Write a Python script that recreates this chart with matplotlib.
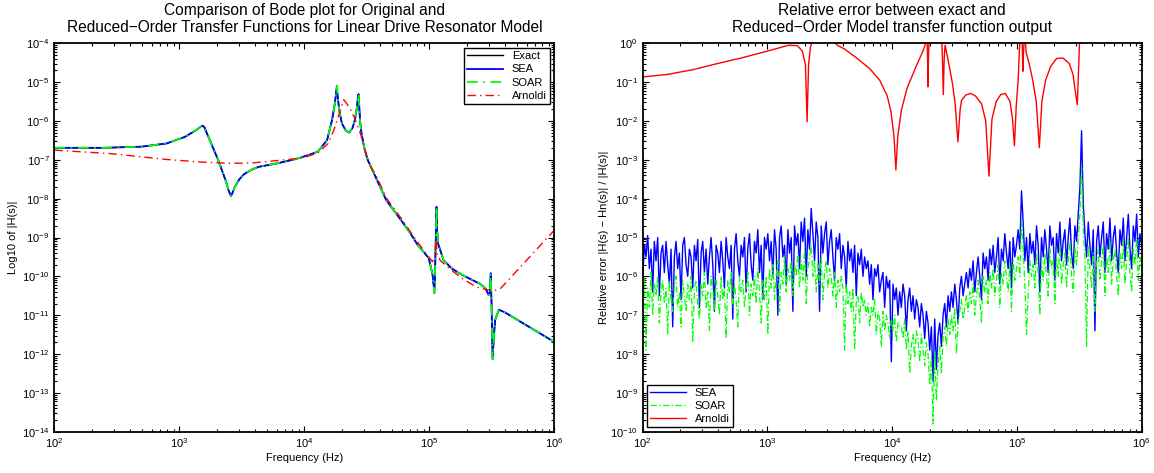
import numpy as np
import matplotlib
matplotlib.use('Agg')
import matplotlib.pyplot as plt
from matplotlib.ticker import LogLocator, NullFormatter

plt.rcParams['font.family'] = ['Liberation Sans', 'DejaVu Sans']
plt.rcParams['mathtext.fontset'] = 'custom'
plt.rcParams['mathtext.rm'] = 'Liberation Sans'
plt.rcParams['mathtext.it'] = 'Liberation Sans:italic'

# ---- left panel: Bode magnitude (log10 of frequency, log10 of |H|) ----
exact_logf = [2.00, 2.40, 2.70, 2.896, 3.044, 3.132, 3.17, 3.186, 3.20, 3.221,
              3.26, 3.310, 3.369, 3.395, 3.413, 3.425, 3.443, 3.48, 3.517, 3.58,
              3.635, 3.783, 3.931, 4.03, 4.108, 4.182, 4.221, 4.244, 4.255, 4.260,
              4.266, 4.279, 4.300, 4.33, 4.359, 4.385, 4.404, 4.421, 4.428, 4.433,
              4.438, 4.445, 4.457, 4.48, 4.507, 4.581, 4.655, 4.773, 4.85, 4.906,
              4.995, 5.024, 5.035, 5.039, 5.045, 5.050, 5.057, 5.062, 5.069, 5.113,
              5.18, 5.261, 5.409, 5.45, 5.474, 5.484, 5.491, 5.498, 5.506, 5.515,
              5.526, 5.556, 5.60, 6.00]
exact_logh = [-6.69, -6.69, -6.66, -6.58, -6.41, -6.24, -6.15, -6.12, -6.16, -6.32,
              -6.62, -7.00, -7.52, -7.80, -7.93, -7.85, -7.70, -7.50, -7.37, -7.25,
              -7.18, -7.09, -6.98, -6.88, -6.79, -6.49, -5.98, -5.55, -5.25, -5.10,
              -5.35, -5.72, -6.06, -6.24, -6.30, -6.18, -5.98, -5.64, -5.40, -5.31,
              -5.55, -5.98, -6.32, -6.70, -7.00, -7.52, -8.04, -8.55, -8.90, -9.19,
              -9.53, -9.93, -10.25, -10.43, -10.0, -9.2, -8.21, -8.8, -9.15, -9.58,
              -9.80, -9.96, -10.20, -10.32, -10.48, -10.40, -9.92, -10.8, -12.13, -11.6,
              -11.12, -10.86, -10.92, -11.69]
# SEA and SOAR reproduce the exact response to plotting accuracy
sea_logh = exact_logh
soar_logh = exact_logh

arnoldi_logf = [2.00, 2.45, 2.896, 3.19, 3.41, 3.58, 3.78, 3.99, 4.108, 4.19,
                4.24, 4.28, 4.315, 4.359, 4.404, 4.448, 4.477, 4.507, 4.581, 4.655,
                4.773, 4.906, 4.995, 5.024, 5.045, 5.054, 5.062, 5.09, 5.18, 5.26,
                5.38, 5.51, 5.57, 6.00]
arnoldi_logh = [-6.75, -6.84, -6.99, -7.06, -7.09, -7.08, -7.02, -6.95, -6.82, -6.58,
                -6.20, -5.80, -5.45, -5.64, -5.94, -6.32, -6.66, -7.05, -7.45, -7.98,
                -8.50, -9.12, -9.50, -9.62, -9.50, -8.98, -9.45, -9.60, -9.85, -10.05,
                -10.28, -10.38, -10.31, -8.81]

# ---- right panel: log10 of relative error, on a log-spaced frequency grid ----
sea_err = [
    -6.1, -5.2, -5.5, -4.95, -5.8, -5.3, -6.4, -5.1, -5.6, -5.0, -6.5, -5.4, -5.2, -5.9, -5.1,
    -5.7, -6.2, -5.3, -7.3, -5.5, -5.1, -5.8, -5.4, -6.6, -5.2, -5.0, -5.7, -6.0, -5.3, -5.5,
    -6.3, -5.2, -5.6, -5.05, -6.8, -5.4, -5.1, -5.9, -5.3, -6.2, -5.5, -5.0, -5.7, -6.9, -5.2,
    -5.4, -5.9, -5.1, -5.6, -6.3, -5.0, -5.5, -5.8, -5.2, -7.1, -5.3, -4.9, -5.6, -6.0, -5.2,
    -5.5, -5.0, -6.4, -5.3, -4.9, -5.7, -6.1, -5.1, -5.4, -4.8, -5.9, -5.2, -6.6, -5.0, -5.3,
    -4.9, -5.6, -5.1, -6.0, -4.8, -5.3, -7.0, -5.0, -4.7, -5.5, -5.2, -6.2, -4.8, -5.4, -5.0,
    -6.9, -4.7, -5.2, -4.9, -5.8, -4.6, -5.1, -4.5, -6.0, -4.8, -5.3, -4.25, -4.9, -5.6, -4.6,
    -5.0, -6.9, -4.7, -5.4, -4.9, -4.6, -5.7, -5.1, -4.8, -5.5, -6.1, -5.0, -5.3, -4.9, -5.8,
    -5.2, -5.5, -6.3, -5.1, -5.6, -5.3, -5.9, -5.2, -6.5, -5.4, -5.7, -5.3, -6.0, -5.5, -5.8,
    -5.6, -6.2, -5.7, -6.6, -5.8, -6.0, -5.7, -6.4, -6.1, -5.9, -6.8, -6.0, -6.3, -6.1, -8.2,
    -6.2, -6.6, -6.3, -7.0, -6.4, -6.8, -6.2, -6.5, -7.4, -6.6, -6.3, -6.9, -6.5, -7.1, -6.6,
    -6.8, -7.3, -6.7, -7.0, -7.6, -6.9, -7.2, -7.9, -7.3, -8.7, -7.1, -8.4, -7.5, -7.2, -7.8,
    -7.0, -6.7, -7.3, -6.5, -6.9, -6.4, -6.8, -6.2, -6.6, -7.2, -6.3, -6.0, -6.5, -6.2, -5.9,
    -6.3, -5.8, -6.1, -5.6, -6.4, -5.9, -5.5, -6.0, -6.6, -5.4, -5.8, -5.5, -6.1, -5.3, -5.7,
    -5.2, -5.9, -5.5, -5.0, -6.2, -5.3, -5.6, -4.9, -5.4, -5.8, -5.1, -6.3, -5.0, -5.5, -5.2,
    -4.8, -5.3, -3.8, -4.6, -5.6, -5.0, -5.9, -4.9, -5.4, -5.1, -5.7, -4.7, -5.2, -6.4, -5.0,
    -5.5, -4.8, -5.3, -5.9, -4.7, -5.2, -5.0, -6.1, -4.9, -5.4, -4.6, -5.6, -5.1, -4.8, -5.7,
    -5.0, -4.5, -5.4, -5.8, -4.7, -5.1, -4.4, -3.7, -2.25, -4.1, -4.9, -5.5, -4.6, -5.2, -5.7,
    -4.8, -7.4, -5.1, -4.7, -5.5, -5.0, -4.6, -5.9, -4.9, -5.3, -4.5, -5.6, -5.0, -4.7, -5.4,
    -5.9, -4.8, -5.2, -4.5, -5.6, -5.0, -4.4, -5.3, -5.8, -4.7, -5.1, -4.4, -5.5, -4.9, -5.2]
soar_err = [
    -6.6, -6.0, -7.9, -6.3, -6.8, -5.9, -7.0, -6.2, -6.5, -6.0, -7.2, -6.4, -6.1, -6.7, -6.3,
    -7.5, -6.1, -6.6, -6.9, -6.2, -6.0, -6.8, -6.4, -7.3, -6.1, -6.5, -6.9, -6.2, -6.6, -6.0,
    -7.7, -6.3, -6.1, -6.7, -7.1, -6.2, -6.5, -5.9, -6.8, -6.4, -7.4, -6.0, -6.3, -6.9, -6.1,
    -6.5, -7.0, -6.0, -6.6, -6.3, -7.6, -6.1, -6.4, -5.9, -6.8, -6.2, -6.6, -7.3, -6.0, -6.4,
    -6.1, -6.8, -6.3, -5.9, -7.0, -6.2, -6.5, -6.0, -6.7, -5.8, -6.4, -7.2, -6.1, -6.6, -6.0,
    -7.5, -5.8, -6.3, -5.7, -6.6, -6.0, -5.6, -6.9, -5.9, -6.2, -5.5, -6.4, -5.8, -6.1, -5.6,
    -6.5, -5.7, -6.0, -5.4, -6.3, -5.6, -6.1, -5.3, -6.7, -5.8, -5.5, -5.2, -6.0, -5.6, -6.4,
    -5.7, -6.2, -5.5, -6.6, -5.9, -5.6, -6.3, -5.8, -6.0, -6.5, -5.9, -6.8, -6.1, -6.4, -6.0,
    -6.3, -7.9, -6.2, -6.7, -6.4, -6.9, -6.3, -7.9, -6.6, -6.5, -7.2, -6.4, -6.8, -6.6, -7.0,
    -6.7, -7.3, -6.8, -7.0, -6.6, -7.5, -6.9, -7.1, -7.8, -6.9, -7.4, -7.0, -7.2, -7.6, -7.1,
    -7.4, -7.0, -7.7, -7.2, -7.3, -7.3, -7.6, -7.1, -7.9, -7.4, -8.5, -7.8, -7.5, -8.1, -7.4,
    -7.6, -8.2, -7.5, -7.9, -8.3, -7.7, -8.0, -8.8, -8.1, -9.8, -7.9, -9.2, -8.3, -7.8, -8.5,
    -7.6, -7.3, -7.8, -7.1, -7.5, -7.0, -7.4, -6.8, -8.0, -7.2, -6.9, -6.6, -7.1, -6.8, -6.5,
    -6.9, -6.4, -6.7, -6.2, -7.0, -6.5, -6.1, -6.6, -7.2, -6.0, -6.4, -6.1, -6.7, -5.9, -6.3,
    -5.8, -6.5, -6.1, -5.7, -6.8, -5.9, -6.2, -5.6, -6.0, -6.4, -5.7, -6.9, -5.6, -6.1, -5.8,
    -5.5, -6.0, -4.6, -5.3, -6.2, -7.5, -6.5, -5.6, -6.0, -5.7, -6.3, -5.4, -5.9, -7.0, -5.6,
    -6.1, -5.4, -6.0, -6.5, -5.3, -5.8, -5.6, -6.7, -5.5, -6.0, -5.2, -6.2, -5.7, -5.4, -6.3,
    -5.6, -5.1, -6.0, -6.4, -5.3, -5.7, -5.0, -4.4, -3.2, -4.8, -5.5, -7.8, -5.2, -5.8, -6.3,
    -5.4, -6.9, -5.7, -5.3, -6.1, -5.6, -5.2, -6.5, -5.5, -5.9, -5.1, -6.2, -5.6, -5.3, -6.0,
    -6.5, -5.4, -5.8, -5.1, -6.2, -5.6, -5.0, -5.9, -6.4, -5.3, -5.7, -5.0, -6.1, -5.5, -5.8]

arnoldi_err_logf = [2.00, 2.20, 2.40, 2.60, 2.80, 3.00, 3.17, 3.24, 3.28, 3.305,
                    3.318, 3.330, 3.345, 3.36, 3.45, 3.53, 3.56, 3.62, 3.72, 3.82,
                    3.90, 3.96, 3.99, 4.015, 4.03, 4.045, 4.074, 4.12, 4.19, 4.24,
                    4.264, 4.278, 4.284, 4.287, 4.291, 4.298, 4.35, 4.395, 4.403, 4.41,
                    4.417, 4.424, 4.45, 4.483, 4.505, 4.527, 4.545, 4.556, 4.59, 4.63,
                    4.67, 4.717, 4.75, 4.776, 4.80, 4.834, 4.87, 4.907, 4.945, 4.965,
                    4.98, 4.995, 5.01, 5.024, 5.04, 5.045, 5.048, 5.052, 5.06, 5.068,
                    5.074, 5.10, 5.127, 5.155, 5.18, 5.20, 5.23, 5.27, 5.318, 5.37,
                    5.42, 5.45, 5.463, 5.484, 5.495, 5.502, 5.55, 6.00]
arnoldi_err = [-0.866, -0.80, -0.68, -0.52, -0.37, -0.20, -0.05, -0.06, -0.20, -0.55,
               -2.02, -0.55, -0.10, 0.05, 0.5, 0.05, -0.05, -0.15, -0.39, -0.65,
               -0.95, -1.35, -1.75, -2.4, -3.26, -2.4, -1.72, -1.15, -0.61, -0.25,
               -0.05, 0.3, -0.4, -1.12, -0.4, 0.3, 0.5, 0.3, -0.4, -1.32,
               -0.4, -0.05, -0.45, -1.03, -1.55, -2.54, -1.7, -1.47, -1.33, -1.29,
               -1.36, -1.56, -2.0, -3.42, -1.95, -1.5, -1.32, -1.29, -1.5, -1.95,
               -2.64, -1.6, -0.95, 0.1, 0.3, -0.3, -0.72, -0.3, 0.2, 0.05,
               -0.23, -0.55, -0.95, -1.5, -2.69, -1.5, -0.95, -0.6, -0.39, -0.38,
               -0.52, -0.8, -1.12, -1.58, -0.6, 0.05, 0.5, 0.5]

err_freq = np.logspace(2, 6, len(sea_err))


def matlab_axes(ax, ylo, yhi):
    ax.set_xscale('log')
    ax.set_yscale('log')
    ax.set_xlim(1e2, 1e6)
    ax.set_ylim(ylo, yhi)
    ax.xaxis.set_major_locator(LogLocator(base=10, numticks=20))
    ax.yaxis.set_major_locator(LogLocator(base=10, numticks=20))
    ax.xaxis.set_minor_locator(LogLocator(base=10, subs=np.arange(2, 10), numticks=100))
    ax.yaxis.set_minor_locator(LogLocator(base=10, subs=np.arange(2, 10), numticks=100))
    ax.xaxis.set_minor_formatter(NullFormatter())
    ax.yaxis.set_minor_formatter(NullFormatter())
    ax.xaxis.get_offset_text().set_visible(False)
    ax.yaxis.get_offset_text().set_visible(False)
    ax.tick_params(which='both', direction='in', top=True, right=True,
                   labelsize=8, width=0.8)
    ax.tick_params(which='minor', labelbottom=False, labelleft=False)
    ax.tick_params(which='major', length=4)
    ax.tick_params(which='minor', length=2)
    for s in ax.spines.values():
        s.set_linewidth(1.3)


fig = plt.figure(figsize=(11.54, 4.73), dpi=100)
ax1 = fig.add_axes([0.0471, 0.0873, 0.4333, 0.8211])
ax2 = fig.add_axes([0.5569, 0.0873, 0.4324, 0.8211])

dashdot = (0, (6, 3, 1, 3))

# left panel
f_exact = 10 ** np.array(exact_logf)
ax1.plot(f_exact, 10 ** np.array(exact_logh), color='black', lw=1.0, label='Exact')
ax1.plot(f_exact, 10 ** np.array(sea_logh), color='#0000ff', lw=1.3, label='SEA')
ax1.plot(f_exact, 10 ** np.array(soar_logh), color='#00ff00', lw=1.3, ls=dashdot, label='SOAR')
ax1.plot(10 ** np.array(arnoldi_logf), 10 ** np.array(arnoldi_logh), color='#ff0000', lw=1.0,
         ls=dashdot, label='Arnoldi')
matlab_axes(ax1, 1e-14, 1e-4)
ax1.set_title('Comparison of Bode plot for Original and\n'
              'Reduced\u2212Order Transfer Functions for Linear Drive Resonator Model',
              fontsize=11.2, pad=8)
ax1.set_xlabel('Frequency (Hz)', fontsize=8, labelpad=2)
ax1.set_ylabel('Log10 of |H(s)|', fontsize=8, labelpad=3)
leg1 = ax1.legend(loc='upper right', fontsize=8, fancybox=False, framealpha=1,
                  edgecolor='black', handlelength=3.2, borderaxespad=0.4,
                  labelspacing=0.3, borderpad=0.3)
leg1.get_frame().set_linewidth(1.0)

# right panel
ax2.plot(err_freq, 10 ** np.array(sea_err), color='#0000ff', lw=1.0, label='SEA')
ax2.plot(err_freq, 10 ** np.array(soar_err), color='#00ff00', lw=0.9,
         ls=(0, (5, 2, 1, 2)), label='SOAR')
ax2.plot(10 ** np.array(arnoldi_err_logf), 10 ** np.array(arnoldi_err), color='#ff0000',
         lw=1.0, label='Arnoldi')
matlab_axes(ax2, 1e-10, 1e0)
ax2.set_title('Relative error between exact and\n'
              'Reduced\u2212Order Model transfer function output',
              fontsize=11.2, pad=8)
ax2.set_xlabel('Frequency (Hz)', fontsize=8, labelpad=2)
ax2.set_ylabel('Relative error |H(s) \u2212 Hn(s)| / |H(s)|', fontsize=8, labelpad=1)
leg2 = ax2.legend(loc='lower left', fontsize=8, fancybox=False, framealpha=1,
                  edgecolor='black', handlelength=3.2, borderaxespad=0.4,
                  labelspacing=0.25, borderpad=0.3)
leg2.get_frame().set_linewidth(1.0)

fig.savefig('out.png', dpi=100)
